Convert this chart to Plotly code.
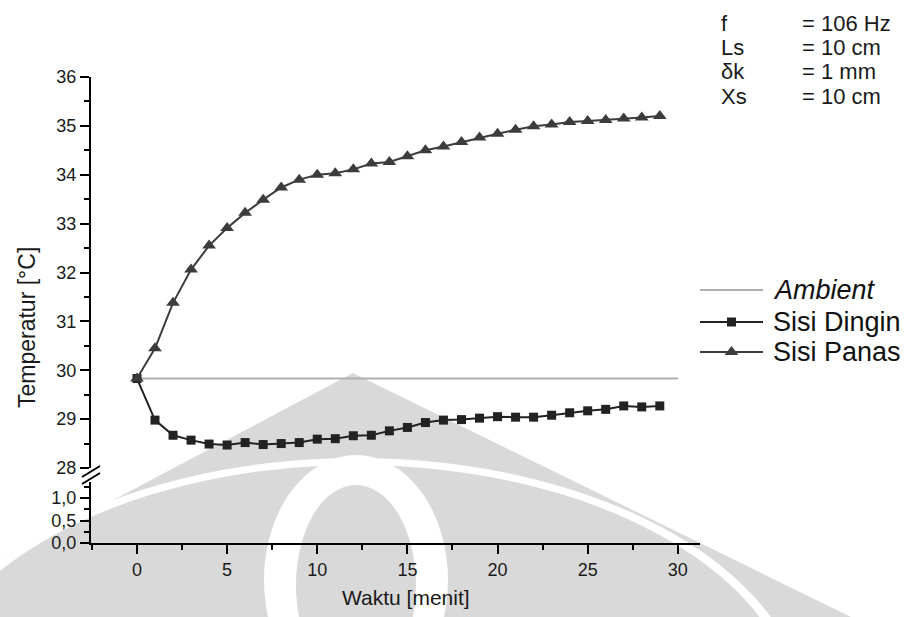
import plotly.graph_objects as go

# Measured temperatures (°C) per minute
waktu = list(range(30))
sisi_panas = [29.83, 30.45, 31.38, 32.06, 32.55, 32.91, 33.22, 33.49, 33.74, 33.90,
              34.00, 34.03, 34.11, 34.23, 34.26, 34.38, 34.50, 34.58, 34.67, 34.76,
              34.84, 34.92, 34.99, 35.03, 35.08, 35.10, 35.12, 35.15, 35.17, 35.20]
sisi_dingin = [29.83, 28.98, 28.67, 28.57, 28.49, 28.47, 28.52, 28.48, 28.50, 28.52,
               28.59, 28.60, 28.66, 28.67, 28.76, 28.83, 28.93, 28.98, 28.99, 29.02,
               29.05, 29.04, 29.04, 29.08, 29.13, 29.17, 29.20, 29.27, 29.25, 29.27]
ambient_x = [0, 30]
ambient_y = [29.83, 29.83]

x_ticks = [0, 5, 10, 15, 20, 25, 30]
upper_ticks = [28, 29, 30, 31, 32, 33, 34, 35, 36]
lower_ticks = [0.0, 0.5, 1.0]
lower_ticktext = ["0,0", "0,5", "1,0"]

param_names = ["f", "Ls", "\u03b4k", "Xs"]
param_values = ["= 106 Hz", "= 10 cm", "= 1 mm", "= 10 cm"]

legend_names = ["<i>Ambient</i>", "Sisi Dingin", "Sisi Panas"]

# ---- page geometry (pixels) ----
W, H = 910, 617
ML, MR, MT, MB = 91, 0, 77, 74
PW, PH = W - ML - MR, H - MT - MB


def px(x):
    return (x - ML) / PW


def py(y):
    return (H - MB - y) / PH


FONT = "Liberation Sans, Arial, sans-serif"
C_PANAS = "#3c3c3c"
C_DINGIN = "#222222"
C_AMB = "#b0b0b0"
C_TEXT = "#1a1a1a"
C_MARK = "#d9d9d9"   # light emblem in the page background

fig = go.Figure()

fig.add_trace(go.Scatter(x=ambient_x, y=ambient_y, mode="lines",
                         line=dict(color=C_AMB, width=2), showlegend=False))
fig.add_trace(go.Scatter(x=waktu, y=sisi_dingin, mode="lines+markers",
                         line=dict(color=C_DINGIN, width=2),
                         marker=dict(symbol="square", size=9, color=C_DINGIN),
                         showlegend=False))
fig.add_trace(go.Scatter(x=waktu, y=sisi_panas, mode="lines+markers",
                         line=dict(color=C_PANAS, width=2),
                         marker=dict(symbol="triangle-up", size=12, color=C_PANAS),
                         showlegend=False))
# lower (broken) segment of the temperature axis, no data drawn there
fig.add_trace(go.Scatter(x=[None], y=[None], xaxis="x", yaxis="y2",
                         mode="lines", showlegend=False, hoverinfo="skip"))

# legend samples on a pixel-scaled helper axis pair
leg_rows = [290, 322, 352]
leg_x0, leg_x1 = 700, 763
legend_styles = [
    dict(color=C_AMB, marker=None),
    dict(color=C_DINGIN, marker=dict(symbol="square", size=9, color=C_DINGIN)),
    dict(color=C_PANAS, marker=dict(symbol="triangle-up", size=12, color=C_PANAS)),
]
for row, st in zip(leg_rows, legend_styles):
    fig.add_trace(go.Scatter(x=[leg_x0, leg_x1], y=[row, row], mode="lines",
                             line=dict(color=st["color"], width=2),
                             xaxis="x3", yaxis="y3", showlegend=False,
                             hoverinfo="skip"))
    if st["marker"]:
        fig.add_trace(go.Scatter(x=[(leg_x0 + leg_x1) / 2], y=[row], mode="markers",
                                 marker=st["marker"], xaxis="x3", yaxis="y3",
                                 showlegend=False, hoverinfo="skip"))

axis_common = dict(showline=True, linecolor="black", linewidth=2, ticks="outside",
                   ticklen=9, tickwidth=2, tickcolor="black", showgrid=False,
                   zeroline=False, tickfont=dict(family=FONT, size=18, color=C_TEXT),
                   minor=dict(ticks="outside", ticklen=5, tickwidth=2, tickcolor="black"))

x_end = (700 - ML) / PW
fig.update_layout(
    width=W, height=H,
    margin=dict(l=ML, r=MR, t=MT, b=MB),
    paper_bgcolor="white", plot_bgcolor="rgba(0,0,0,0)",
    font=dict(family=FONT, color=C_TEXT),
    xaxis=dict(domain=[0, x_end], range=[-2.55, 31.23], anchor="y2",
               tickvals=x_ticks, minor_dtick=2.5, minor_tick0=0, **axis_common),
    yaxis=dict(domain=[py(468), 1], range=[28, 36], anchor="x",
               tickvals=upper_ticks, minor_dtick=0.5, minor_tick0=28, **axis_common),
    yaxis2=dict(domain=[0, py(482)], range=[0, 1.356], anchor="x",
                tickvals=lower_ticks, ticktext=lower_ticktext,
                minor_dtick=0.25, minor_tick0=0, **axis_common),
    xaxis3=dict(domain=[0, 1], range=[ML, W], visible=False, anchor="y3"),
    yaxis3=dict(domain=[0, 1], range=[H - MB, MT], visible=False, anchor="x3"),
)


def label(text, x, y, size, xanchor="left", angle=0, color=C_TEXT):
    return dict(text=text, x=px(x), y=py(y), xref="paper", yref="paper",
                xanchor=xanchor, yanchor="middle", textangle=angle,
                showarrow=False, font=dict(family=FONT, size=size, color=color))


annotations = [
    label("Waktu [menit]", 406, 597, 21, xanchor="center"),
    label("Temperatur [\u00b0C]", 27, 328, 23, xanchor="center", angle=-90),
]
# parameter block
for i, (n, v) in enumerate(zip(param_names, param_values)):
    yy = 23 + 24.5 * i
    annotations.append(label(n, 719, yy, 22))
    annotations.append(label(v, 800, yy, 22))
# legend labels
for row, name in zip(leg_rows, legend_names):
    annotations.append(label(name, 771, row, 27, color="#111"))
fig.update_layout(annotations=annotations)


def poly(points, color):
    d = "M " + " L ".join(f"{px(x):.5f},{py(y):.5f}" for x, y in points) + " Z"
    return dict(type="path", path=d, xref="paper", yref="paper", layer="below",
                fillcolor=color, line=dict(width=0))


def oval(cx, cy, a, b, color):
    return dict(type="circle", xref="paper", yref="paper", layer="below",
                x0=px(cx - a), x1=px(cx + a), y0=py(cy + b), y1=py(cy - b),
                fillcolor=color, line=dict(width=0))


shapes = [
    # background emblem: pointed body with two light rings cut into it
    poly([(0, 617), (0, 560), (353, 373), (851, 617)], C_MARK),
    oval(357, 720, 450, 262, "white"),
    oval(357, 720, 440, 255, C_MARK),
    oval(356, 580, 92, 125, "white"),
    oval(356, 585, 60, 100, C_MARK),
]
# axis break marks
for dy in (0, 7):
    shapes.append(dict(type="line", xref="paper", yref="paper",
                       x0=px(82), y0=py(477 + dy), x1=px(100), y1=py(466 + dy),
                       line=dict(color="black", width=2)))
fig.update_layout(shapes=shapes)

fig.write_html("out.html")
